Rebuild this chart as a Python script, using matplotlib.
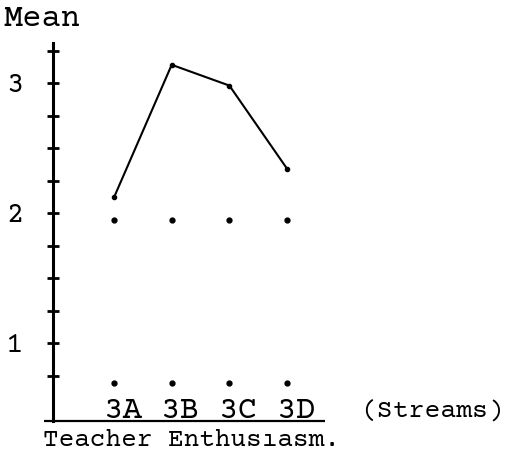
import numpy as np
import matplotlib
matplotlib.use('Agg')
import matplotlib.pyplot as plt

# Data
streams = ['3A', '3B', '3C', '3D']
means = [2.12, 3.14, 2.98, 2.34]
upper_dots = [1.95, 1.95, 1.95, 1.95]
lower_dots = [0.69, 0.69, 0.69, 0.69]
ytick_vals = np.arange(0.75, 3.26, 0.25)

plt.rcParams['font.family'] = ['Courier Prime', 'FreeMono', 'Liberation Mono']

W, H = 505, 457
fig = plt.figure(figsize=(W / 100, H / 100), dpi=100)
# axes spans from the vertical axis line to the right edge
ax = fig.add_axes([53 / W, (H - 421) / H, (W - 53) / W, (421 - 43) / H])

x = np.arange(len(streams))
ax.plot(x, means, color='black', lw=1.5, marker='o', ms=3)
ax.plot(x, upper_dots, ls='none', marker='o', ms=3.5, color='black')
ax.plot(x, lower_dots, ls='none', marker='o', ms=3.5, color='black')

ax.set_xlim(-61 / 57.7, (W - 114) / 57.7)
ax.set_ylim(0.4, 3.0 + 40 / 130)

for s in ['top', 'right', 'bottom']:
    ax.spines[s].set_visible(False)
ax.spines['left'].set_linewidth(2.2)

ax.set_yticks(ytick_vals)
ax.set_yticklabels([str(int(v)) if abs(v - round(v)) < 1e-6 else '' for v in ytick_vals],
                   fontsize=21)
ax.tick_params(axis='y', direction='inout', length=8, width=2, pad=17)
ax.set_xticks([])

# baseline underline
ax.plot([(44 - 114) / 57.7, (325 - 114) / 57.7], [0.4, 0.4], color='black',
        lw=1.6, clip_on=False, solid_capstyle='butt')

# stream labels sitting on the baseline
for i, s in enumerate(streams):
    ax.annotate(s, (i, 0.425), xytext=(-7.5, 0), textcoords='offset points',
                ha='left', va='baseline', fontsize=23.5)
ax.annotate('(Streams)', (3, 0.425), xytext=(53, 0), textcoords='offset points',
            ha='left', va='baseline', fontsize=19)

fig.text(4 / W, 1 - 18 / H, 'Mean', ha='left', va='center', fontsize=23)
fig.text(43 / W, 1 - 440 / H, 'Teacher Enthusıasm.', ha='left', va='center',
         fontsize=18.8)

fig.savefig('out.png', dpi=100)
